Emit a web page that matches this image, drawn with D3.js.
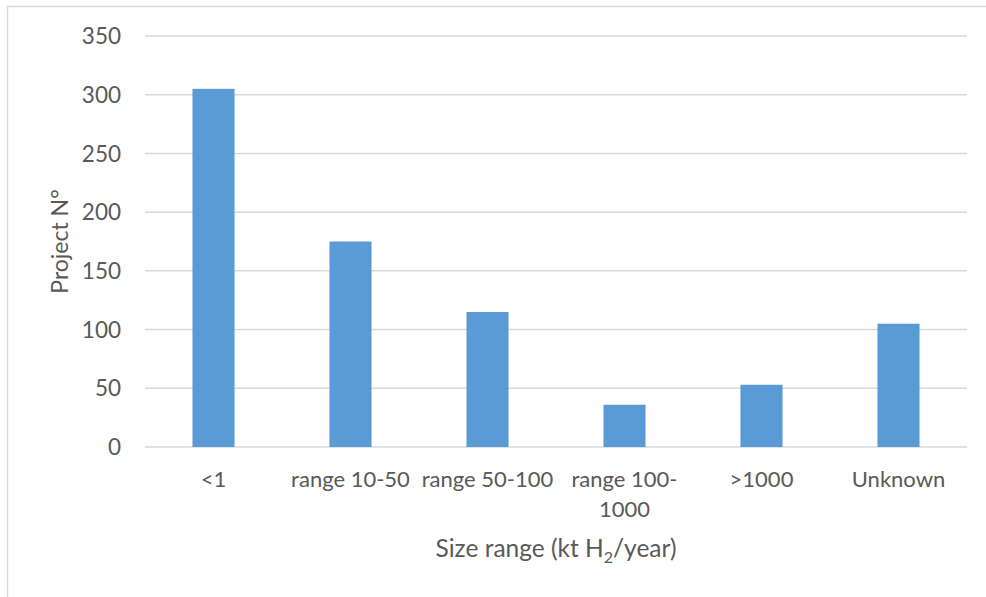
<!DOCTYPE html>
<html><head><meta charset="utf-8">
<script src="https://cdn.jsdelivr.net/npm/d3@7"></script>
<style>body{margin:0;background:#fff}svg{display:block}</style>
</head><body>
<svg id="c" width="986" height="597"></svg>
<script>
const categories = [["<1"], ["range 10-50"], ["range 50-100"], ["range 100-", "1000"], [">1000"], ["Unknown"]];
const values = [305, 175, 115, 36, 53, 105];
const yTicks = [0, 50, 100, 150, 200, 250, 300, 350];

const svg = d3.select("#c");
const font = "Lato, 'Open Sans', sans-serif";
const txt = "#595959";
const L = 145, R = 967, T = 36, B = 447;

// outer frame
svg.append("path").attr("d", "M7.5,597V6.5H986").attr("fill", "none").attr("stroke", "#d9d9d9").attr("stroke-width", 1.5);

const keys = categories.map(c => c.join(" "));
const x = d3.scaleBand().domain(keys).range([L, R]).paddingInner(0.693).paddingOuter(0.3465);
const y = d3.scaleLinear().domain([0, 350]).range([B, T]);

// gridlines
svg.append("g").selectAll("line").data(yTicks).join("line")
  .attr("x1", L).attr("x2", R).attr("y1", d => y(d)).attr("y2", d => y(d))
  .attr("stroke", "#d9d9d9").attr("stroke-width", 1.5);

// y axis labels
const yAxis = d3.axisLeft(y).tickValues(yTicks).tickSize(0).tickPadding(0);
const ya = svg.append("g").attr("transform", `translate(${L - 24},0)`).call(yAxis);
ya.select(".domain").remove();
ya.selectAll("text").attr("font-family", font).attr("font-size", 22.5).attr("fill", txt).attr("dy", "0.34em");

// bars
svg.append("g").selectAll("rect").data(values).join("rect")
  .attr("x", (d, i) => x(keys[i])).attr("width", x.bandwidth())
  .attr("y", d => y(d)).attr("height", d => y(0) - y(d))
  .attr("fill", "#5b9bd5");

// x labels
const xa = svg.append("g");
categories.forEach((lines, i) => {
  const cx = x(keys[i]) + x.bandwidth() / 2;
  const t = xa.append("text").attr("x", cx).attr("y", 487)
    .attr("text-anchor", "middle").attr("font-family", font).attr("font-size", 22).attr("fill", txt);
  lines.forEach((ln, j) => t.append("tspan").attr("x", cx).attr("dy", j ? 30 : 0).text(ln));
});

// axis titles
svg.append("text").attr("transform", `translate(68,${(T + B) / 2}) rotate(-90)`)
  .attr("text-anchor", "middle").attr("font-family", font).attr("font-size", 23).attr("fill", txt).text("Project N°");
const xt = svg.append("text").attr("x", 556).attr("y", 557).attr("text-anchor", "middle")
  .attr("font-family", font).attr("font-size", 24.5).attr("fill", txt);
xt.append("tspan").text("Size range (kt H");
xt.append("tspan").attr("font-size", 16).attr("dy", 6).text("2");
xt.append("tspan").attr("dy", -6).text("/year)");
</script>
</body></html>
